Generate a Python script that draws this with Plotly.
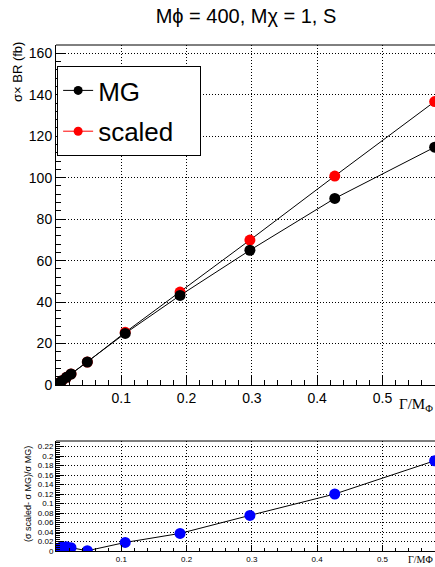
import plotly.graph_objects as go

# ---- data ----
gamma_over_m = [0.001, 0.004, 0.009, 0.016, 0.023, 0.048, 0.106, 0.19, 0.297, 0.427, 0.58]
sigma_mg = [0.2, 0.9, 2.1, 3.7, 5.3, 11.1, 24.9, 43.2, 65.0, 90.0, 114.7]
sigma_scaled = [0.2, 0.9, 2.1, 3.7, 5.35, 11.1, 25.4, 44.8, 69.9, 100.8, 136.7]
rel_diff = [0.003, 0.006, 0.009, 0.009, 0.007, 0.0005, 0.018, 0.037, 0.075, 0.12, 0.19]

main_yticks = [0, 20, 40, 60, 80, 100, 120, 140, 160]
main_xticks = [0.1, 0.2, 0.3, 0.4, 0.5]
low_yticks = [0, 0.02, 0.04, 0.06, 0.08, 0.1, 0.12, 0.14, 0.16, 0.18, 0.2, 0.22]
low_ytext = ["0", "0.02", "0.04", "0.06", "0.08", "0.1", "0.12", "0.14", "0.16", "0.18", "0.2", "0.22"]

title_text = "Mϕ = 400, Mχ = 1, S"
SANS = "Liberation Sans, Arial, sans-serif"
SERIF = "Liberation Serif, Times New Roman, serif"

fig = go.Figure()

fig.add_trace(go.Scatter(x=gamma_over_m, y=sigma_scaled, mode="lines+markers",
                         line=dict(color="black", width=1),
                         marker=dict(color="red", size=11),
                         showlegend=False, xaxis="x", yaxis="y"))
fig.add_trace(go.Scatter(x=gamma_over_m, y=sigma_mg, mode="lines+markers",
                         line=dict(color="black", width=1),
                         marker=dict(color="black", size=11),
                         showlegend=False, xaxis="x", yaxis="y"))
# legend entries
fig.add_trace(go.Scatter(x=[None], y=[None], mode="lines+markers", name="MG",
                         line=dict(color="black", width=1),
                         marker=dict(color="black", size=9), legendgroup="a"))
fig.add_trace(go.Scatter(x=[None], y=[None], mode="lines+markers", name="scaled\u00a0\u00a0\u00a0",
                         line=dict(color="red", width=1),
                         marker=dict(color="red", size=9), legendgroup="b"))

fig.add_trace(go.Scatter(x=gamma_over_m, y=rel_diff, mode="lines+markers",
                         line=dict(color="black", width=1),
                         marker=dict(color="blue", size=11),
                         showlegend=False, xaxis="x2", yaxis="y2"))

W, H = 435, 567
ml, mr, mt, mb = 56, 0, 45, 16
ph = H - mt - mb
main_bottom = (551 - 385) / ph
low_top = (551 - 441) / ph

grid = dict(showgrid=True, gridcolor="black", gridwidth=1, griddash="1px,2px")

fig.update_layout(
    width=W, height=H,
    margin=dict(l=ml, r=mr, t=mt, b=mb),
    paper_bgcolor="white", plot_bgcolor="white",
    font=dict(family=SANS, color="black"),
    title=dict(text=title_text, x=246 / W, xanchor="center", y=1 - 16 / H, yanchor="middle",
               font=dict(size=20, family=SANS, color="black")),
    showlegend=True,
    legend=dict(x=0.003, y=(551 - 66) / ph, xanchor="left", yanchor="top",
                bgcolor="white", bordercolor="black", borderwidth=1,
                font=dict(size=26, family=SANS, color="black"),
                traceorder="grouped", tracegroupgap=4, itemwidth=30),
    xaxis=dict(domain=[0, 1], range=[0, 0.5805], anchor="y",
               tickmode="array", tickvals=main_xticks, ticktext=[str(v) for v in main_xticks],
               ticks="inside", ticklen=9, tickwidth=1, tickcolor="black",
               minor=dict(ticks="inside", ticklen=5, dtick=0.02, tick0=0, tickcolor="black", showgrid=False),
               showline=True, linecolor="black", linewidth=1, zeroline=False,
               tickfont=dict(size=14, family=SANS), **grid),
    yaxis=dict(domain=[main_bottom, 1], range=[0, 164], anchor="x",
               tickmode="array", tickvals=main_yticks,
               ticks="inside", ticklen=10, tickwidth=1, tickcolor="black",
               minor=dict(ticks="inside", ticklen=5, dtick=4, tick0=0, tickcolor="black", showgrid=False),
               showline=True, linecolor="black", linewidth=1, zeroline=False,
               tickfont=dict(size=14, family=SANS), **grid),
    xaxis2=dict(domain=[0, 1], range=[0, 0.5805], anchor="y2",
                tickmode="array", tickvals=main_xticks, ticktext=[str(v) for v in main_xticks],
                ticks="inside", ticklen=6, tickwidth=1, tickcolor="black",
                minor=dict(ticks="inside", ticklen=3, dtick=0.02, tick0=0, tickcolor="black", showgrid=False),
                showline=True, linecolor="black", linewidth=1, zeroline=False,
                tickfont=dict(size=8, family=SANS), **grid),
    yaxis2=dict(domain=[0, low_top], range=[0, 0.2316], anchor="x2",
                tickmode="array", tickvals=low_yticks, ticktext=low_ytext,
                ticks="inside", ticklen=8, tickwidth=1, tickcolor="black",
                minor=dict(ticks="inside", ticklen=4, dtick=0.004, tick0=0, tickcolor="black", showgrid=False),
                showline=True, linecolor="black", linewidth=1, zeroline=False,
                tickfont=dict(size=8, family=SANS), **grid),
)

# frame top borders
for ytop in [1, low_top]:
    fig.add_shape(type="line", xref="paper", yref="paper", x0=0, x1=1, y0=ytop, y1=ytop,
                  line=dict(color="black", width=1))

# axis titles
fig.add_annotation(text="σ× BR (fb)", xref="paper", yref="paper",
                   x=(17 - ml) / (W - ml - mr), y=1 + 5 / ph, xanchor="center", yanchor="top",
                   textangle=-90, showarrow=False, font=dict(size=13, family=SANS))
fig.add_annotation(text="Γ/M<sub>Φ</sub>", xref="paper", yref="paper",
                   x=1, y=(551 - 405) / ph, xanchor="right", yanchor="middle",
                   showarrow=False, font=dict(size=15, family=SERIF))
fig.add_annotation(text="(σ scaled- σ MG)/σ MG)", xref="paper", yref="paper",
                   x=(28 - ml) / (W - ml - mr), y=(551 - 494) / ph, xanchor="center", yanchor="middle",
                   textangle=-90, showarrow=False, font=dict(size=9, family=SANS))
fig.add_annotation(text="Γ/MΦ", xref="paper", yref="paper",
                   x=1, y=(551 - 559) / ph, xanchor="right", yanchor="middle",
                   showarrow=False, font=dict(size=10, family=SERIF))

fig.write_html("out.html", config={"displayModeBar": False},
               post_script="document.body.style.margin='0';document.body.style.overflow='hidden';")
